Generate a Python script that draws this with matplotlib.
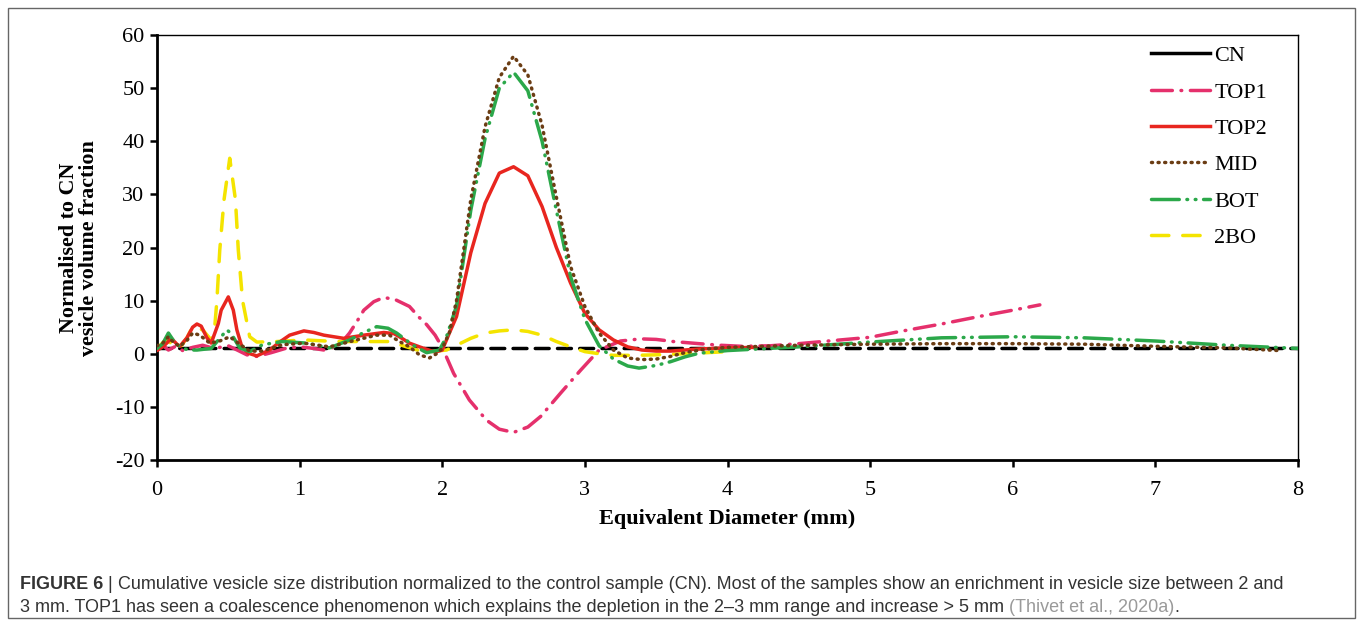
import matplotlib
matplotlib.use('Agg')
import matplotlib.pyplot as plt
from matplotlib import font_manager
from matplotlib.lines import Line2D
from matplotlib.patches import Rectangle

plt.rcParams['axes.unicode_minus'] = False

# ---- data ----
cn_x = [0, 1, 2, 3, 4, 5, 6, 7, 8]
cn_y = [1, 1, 1, 1, 1, 1, 1, 1, 1]

top1_x = [0.00, 0.04, 0.08, 0.13, 0.18, 0.25, 0.32, 0.40, 0.50, 0.57, 0.63, 0.70, 0.80, 0.90,
          1.00, 1.10, 1.17, 1.25, 1.30, 1.35, 1.40, 1.45, 1.52, 1.59, 1.67, 1.77, 1.84, 1.89,
          1.95, 2.00, 2.08, 2.19, 2.31, 2.40, 2.50, 2.60, 2.69, 2.83, 2.97, 3.10, 3.25, 3.39,
          3.50, 3.62, 3.80, 3.95, 4.10, 4.30, 4.50, 4.75, 5.00, 5.21, 5.50, 5.80, 6.00, 6.19]
top1_y = [1.0, 1.6, 0.7, 1.4, 0.6, 1.2, 1.6, 1.0, 1.5, 0.6, -0.2, -0.5, 0.2, 1.0,
          1.3, 1.0, 0.7, 1.3, 2.3, 3.9, 6.0, 8.2, 9.8, 10.6, 10.2, 8.9, 6.8, 5.5,
          3.5, 1.2, -3.7, -8.7, -12.5, -14.2, -14.8, -13.8, -11.8, -7.4, -3.1, 0.7, 2.4, 2.8,
          2.7, 2.3, 1.9, 1.6, 1.4, 1.5, 1.9, 2.5, 3.1, 4.2, 5.6, 7.2, 8.2, 9.2]

top2_x = [0.00, 0.05, 0.10, 0.14, 0.16, 0.21, 0.25, 0.28, 0.31, 0.35, 0.38, 0.43, 0.45, 0.50,
          0.535, 0.56, 0.595, 0.64, 0.70, 0.79, 0.86, 0.93, 1.03, 1.10, 1.17, 1.31, 1.45, 1.59,
          1.66, 1.70, 1.77, 1.84, 1.95, 2.00, 2.05, 2.10, 2.20, 2.30, 2.40, 2.50, 2.60, 2.70,
          2.80, 2.90, 3.00, 3.10, 3.20, 3.30, 3.40, 3.50, 3.60, 3.70, 3.80, 4.00, 4.20]
top2_y = [0.6, 1.5, 2.9, 1.8, 1.4, 3.0, 5.0, 5.6, 5.2, 3.0, 2.0, 5.7, 8.2, 10.7,
          8.2, 4.5, 1.3, 0.1, -0.4, 0.7, 2.2, 3.5, 4.3, 4.0, 3.5, 2.9, 3.5, 4.0,
          3.8, 3.2, 2.0, 1.3, 0.3, 0.7, 3.9, 7.0, 19.0, 28.3, 34.0, 35.2, 33.5, 27.7,
          20.0, 13.3, 7.6, 4.5, 2.6, 1.3, 0.7, 0.5, 0.5, 0.7, 0.9, 1.1, 1.2]

mid_x = [0.00, 0.04, 0.08, 0.12, 0.16, 0.21, 0.25, 0.30, 0.37, 0.44, 0.51, 0.58, 0.65, 0.73,
         0.80, 0.88, 1.03, 1.21, 1.40, 1.54, 1.63, 1.70, 1.77, 1.84, 1.91, 1.96, 2.00, 2.05,
         2.10, 2.20, 2.30, 2.40, 2.50, 2.60, 2.70, 2.80, 2.90, 3.00, 3.10, 3.20, 3.30, 3.40,
         3.50, 3.60, 3.70, 3.85, 4.00, 4.50, 5.00, 5.50, 6.00, 6.50, 7.00, 7.50, 7.87]
mid_y = [1.5, 2.0, 3.2, 2.0, 1.4, 2.5, 3.9, 3.5, 2.0, 2.4, 3.2, 1.8, 0.5, 0.5,
         1.0, 1.7, 2.0, 1.3, 2.6, 3.5, 3.5, 2.3, 1.3, -0.2, -0.8, 0.0, 1.0, 4.0,
         10.0, 29.0, 42.7, 52.0, 56.0, 52.5, 43.0, 29.5, 16.4, 8.9, 3.9, 0.7, -0.8, -1.1,
         -1.0, -0.5, 0.2, 0.9, 1.2, 1.6, 1.8, 1.9, 1.9, 1.8, 1.4, 1.1, 0.6]

bot_x = [0.00, 0.04, 0.08, 0.13, 0.18, 0.23, 0.28, 0.38, 0.45, 0.49, 0.52, 0.58, 0.65, 0.74,
         0.88, 1.05, 1.21, 1.35, 1.45, 1.54, 1.62, 1.68, 1.79, 1.89, 1.98, 2.03, 2.10, 2.20,
         2.30, 2.40, 2.50, 2.60, 2.70, 2.80, 2.90, 3.00, 3.10, 3.20, 3.30, 3.38, 3.50, 3.60,
         3.70, 3.80, 4.00, 4.50, 5.00, 5.50, 6.00, 6.50, 7.00, 7.50, 8.00]
bot_y = [1.0, 1.9, 3.9, 1.9, 1.0, 0.7, 0.7, 1.0, 3.2, 4.5, 3.8, 1.1, 0.4, 1.7,
         2.3, 2.0, 1.1, 2.6, 4.0, 5.1, 4.8, 3.9, 1.7, 0.2, 0.7, 3.2, 9.0, 27.0,
         40.5, 50.0, 53.0, 49.5, 40.0, 27.0, 14.5, 6.5, 1.5, -1.0, -2.3, -2.7, -2.2, -1.5,
         -0.6, 0.1, 0.6, 1.3, 2.2, 3.0, 3.2, 3.0, 2.4, 1.6, 1.0]

bo2_x = [0.00, 0.06, 0.11, 0.16, 0.21, 0.25, 0.32, 0.38, 0.40, 0.42, 0.44, 0.47, 0.51, 0.55,
         0.57, 0.60, 0.65, 0.70, 0.84, 1.03, 1.26, 1.49, 1.63, 1.75, 1.85, 1.91, 2.03, 2.10,
         2.20, 2.30, 2.40, 2.50, 2.60, 2.70, 2.80, 2.90, 3.00, 3.10, 3.20, 3.35, 3.50, 3.70, 4.00]
bo2_y = [1.0, 2.6, 1.8, 1.1, 3.0, 5.1, 4.5, 2.6, 3.5, 10.0, 19.5, 29.0, 36.8, 29.0,
         19.5, 10.0, 3.2, 2.2, 2.3, 2.6, 2.3, 2.3, 2.3, 1.3, 0.5, 0.4, 0.7, 1.6,
         2.9, 3.9, 4.3, 4.5, 4.2, 3.5, 2.3, 1.3, 0.4, 0.0, -0.3, -0.3, -0.2, 0.0, 0.4]

labels = ['CN', 'TOP1', 'TOP2', 'MID', 'BOT', '2BO']
colors = ['black', '#e5306c', '#e8261f', '#6b3d14', '#2ba84a', '#f4e400']

SERIF = 'Liberation Serif'


def pick_font(cands):
    for c in cands:
        try:
            font_manager.findfont(c, fallback_to_default=False)
            return c
        except Exception:
            pass
    return 'DejaVu Sans'


SANS = pick_font(['Liberation Sans Narrow', 'Liberation Sans'])

fig = plt.figure(figsize=(13.58, 6.22), dpi=100)
W, H = 1358, 622
ax = fig.add_axes([157 / W, 1 - 460 / H, (1298 - 157) / W, (460 - 35) / H])

lw = 2.5
styles = [
    dict(dashes=(4, 2.4)),                       # CN
    dict(dashes=(6, 2.5, 0.2, 2.5)),             # TOP1
    dict(linestyle='-'),                         # TOP2
    dict(dashes=(0.3, 1.6)),                     # MID
    dict(dashes=(8, 2.2, 0.2, 2.2, 0.2, 2.2)),   # BOT
    dict(dashes=(5, 4)),                         # 2BO
]
series = [(cn_x, cn_y), (top1_x, top1_y), (top2_x, top2_y),
          (mid_x, mid_y), (bot_x, bot_y), (bo2_x, bo2_y)]
zorders = [3, 4, 5, 6, 5, 4]

for (xs, ys), lab, col, st, z in zip(series, labels, colors, styles, zorders):
    ax.plot(xs, ys, color=col, lw=lw, dash_capstyle='round', solid_capstyle='round',
            zorder=z, **st)

ax.set_xlim(0, 8)
ax.set_ylim(-20, 60)
ax.set_xticks(range(0, 9))
ax.set_yticks(range(-20, 61, 10))
for s in ['left', 'bottom']:
    ax.spines[s].set_linewidth(2)
for s in ['top', 'right']:
    ax.spines[s].set_linewidth(1)
ax.tick_params(axis='both', direction='out', length=5, width=1.8, labelsize=16)
ax.tick_params(axis='y', pad=4)
ax.tick_params(axis='x', pad=10)
for t in ax.get_xticklabels() + ax.get_yticklabels():
    t.set_fontfamily(SERIF)

fig.text(79 / W, 1 - 248 / H, 'Normalised to CN\nvesicle volume fraction',
         rotation=90, ha='center', va='center', multialignment='center',
         fontsize=15.8, fontweight='bold', family=SERIF, linespacing=1.0)
fig.text(727 / W, 1 - 519 / H, 'Equivalent Diameter (mm)', ha='center', va='center',
         fontsize=16, fontweight='bold', family=SERIF)

# legend (CN shown as solid line)
handles = []
for i, (lab, col, st) in enumerate(zip(labels, colors, styles)):
    st2 = dict(linestyle='-') if i == 0 else st
    handles.append(Line2D([], [], color=col, lw=lw, dash_capstyle='round', **st2))
ax.legend(handles, labels, loc='upper left', bbox_to_anchor=(0.871, 0.975),
          frameon=False, borderpad=0, borderaxespad=0, handlelength=2.65,
          handletextpad=0.2, labelspacing=0.71,
          prop=dict(family=SERIF, size=16))

# outer frame
fig.patches.append(Rectangle((8 / W, 1 - 618 / H), (1355 - 8) / W, (618 - 8) / H,
                             transform=fig.transFigure, fill=False, edgecolor='#666666',
                             lw=1))

# caption
renderer = fig.canvas.get_renderer()
cap_color = '#333333'
line1 = [('FIGURE 6', 'bold', cap_color), (' | ', 'normal', cap_color),
         ('Cumulative vesicle size distribution normalized to the control sample (CN). '
          'Most of the samples show an enrichment in vesicle size between 2 and', 'normal', cap_color)]
line2 = [('3 mm. TOP1 has seen a coalescence phenomenon which explains the depletion in the '
          '2\u20133 mm range and increase > 5 mm ', 'normal', cap_color),
         ('(Thivet et al., 2020a)', 'normal', '#9a9a9a'), ('.', 'normal', cap_color)]


def draw_line(parts, x0, y0, size):
    x = x0
    for txt, wt, col in parts:
        t = fig.text(x / W, 1 - y0 / H, txt, fontsize=size, fontweight=wt, color=col,
                     family=[SANS, 'DejaVu Sans'], ha='left', va='baseline')
        bb = t.get_window_extent(renderer)
        x += bb.width
    return x


# fit caption font size to the reference line width
size = 12.0
probe = draw_line(line1, 20, 589, size)
for t in list(fig.texts[-3:]):
    t.remove()
size = size * (1318 - 20) / (probe - 20)
size = min(size, 13.0)
draw_line(line1, 20, 589, size)
draw_line(line2, 20, 612, size)

fig.savefig('out.png', dpi=100)
